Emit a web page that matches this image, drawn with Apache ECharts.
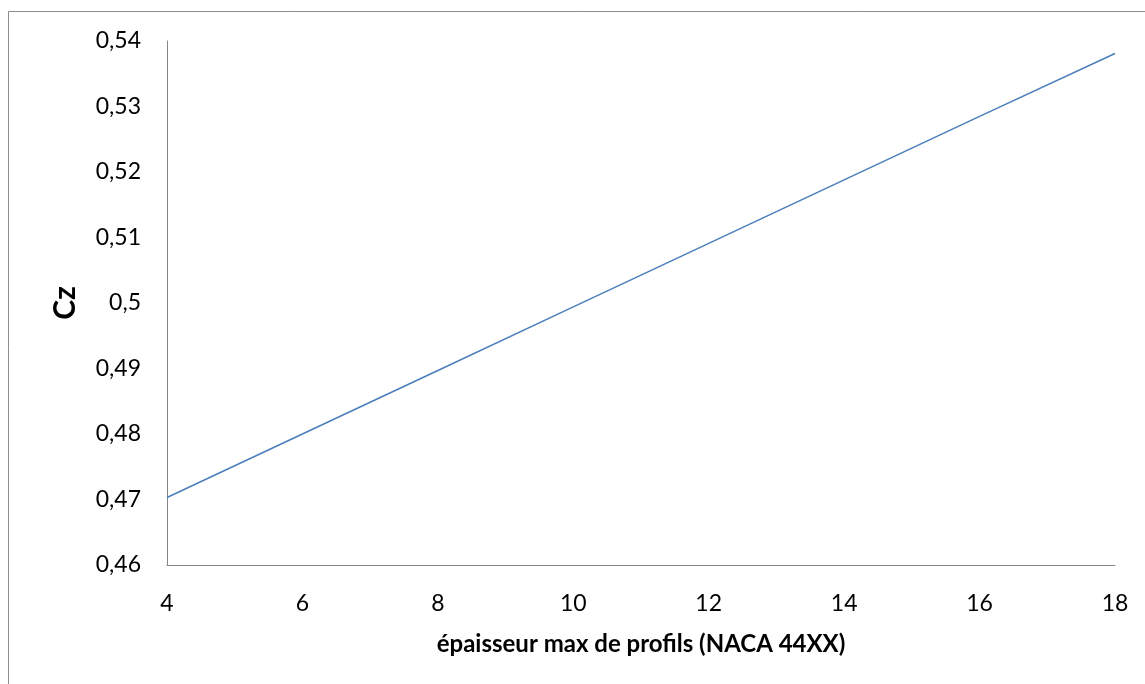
<!DOCTYPE html>
<html>
<head>
<meta charset="utf-8">
<script src="https://cdn.jsdelivr.net/npm/echarts@6/dist/echarts.min.js"></script>
<style>
  html, body { margin: 0; padding: 0; background: #fff; }
  #chart { width: 1145px; height: 684px; }
</style>
</head>
<body>
<div id="chart"></div>
<script>
// Thickness of the NACA 44XX profile (% chord) and lift coefficient Cz
const thickness = [4, 6, 8, 10, 12, 14, 16, 18];
const cz = [0.4703, 0.4800, 0.4897, 0.4994, 0.5091, 0.5188, 0.5285, 0.5381];

const xTitle = 'épaisseur max de profils (NACA 44XX)';
const yTitle = 'Cz';

const chart = echarts.init(document.getElementById('chart'), null, { renderer: 'canvas' });
const font = 'Lato, "Open Sans", sans-serif';

chart.setOption({
  animation: false,
  backgroundColor: '#ffffff',
  graphic: [{
    type: 'rect',
    silent: true,
    shape: { x: 8.5, y: 11.5, width: 1300, height: 1000 },
    style: { fill: 'none', stroke: '#8c8c8c', lineWidth: 1 }
  }],
  grid: { left: 167, right: 30, top: 41, bottom: 119, containLabel: false },
  xAxis: {
    type: 'value',
    min: 4, max: 18, interval: 2,
    name: xTitle,
    nameLocation: 'middle',
    nameGap: 67,
    nameTextStyle: { fontFamily: font, fontSize: 24, fontWeight: 'bold', color: '#000' },
    axisLine: { show: true, lineStyle: { color: '#868686', width: 1 } },
    axisTick: { show: false },
    splitLine: { show: false },
    axisLabel: { fontFamily: font, fontSize: 23, color: '#000', margin: 27 }
  },
  yAxis: {
    type: 'value',
    min: 0.46, max: 0.54, interval: 0.01,
    name: yTitle,
    nameLocation: 'middle',
    nameGap: 87,
    nameRotate: 90,
    nameTextStyle: { fontFamily: font, fontSize: 30, fontWeight: 'bold', color: '#000' },
    axisLine: { show: true, lineStyle: { color: '#868686', width: 1 } },
    axisTick: { show: false },
    splitLine: { show: false },
    axisLabel: {
      fontFamily: font, fontSize: 23, color: '#000', margin: 26,
      formatter: v => String(Math.round(v * 100) / 100).replace('.', ',')
    }
  },
  series: [{
    type: 'line',
    data: thickness.map((t, i) => [t, cz[i]]),
    showSymbol: false,
    lineStyle: { color: '#4a7ebb', width: 1.5 },
    itemStyle: { color: '#4a7ebb' }
  }]
});
</script>
</body>
</html>
